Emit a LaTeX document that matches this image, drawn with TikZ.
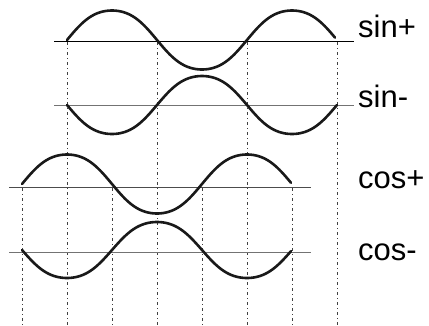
\documentclass[tikz,border=0pt]{standalone}
\usepackage{fontspec}
\setmainfont{Liberation Sans}
\begin{document}
\begin{tikzpicture}[x=1pt,y=-1pt,
  wave/.style={line width=2.6pt, black!90, line cap=round},
  axis/.style={line width=0.9pt},
  guide/.style={line width=0.7pt, black!75, dash pattern=on 3pt off 3pt on 1pt off 3pt},
  lbl/.style={anchor=base west, inner sep=0pt, font=\fontsize{31}{31}\selectfont},
  declare function={fs(\t)=(sin(\t)+0.04*sin(3*\t))/0.96;}]
\useasboundingbox (0,0) rectangle (429,325);
% guide lines
\foreach \gx in {67,157,247,337} \draw[guide] (\gx,42) -- (\gx,325);
\foreach \gx in {22,112,202,292} \draw[guide] (\gx,188) -- (\gx,325);
% axes
\draw[axis, black] (54,41) -- (354,41);
\draw[axis, black!55] (54,105) -- (354,105);
\draw[axis, black!70] (9,187) -- (311,187);
\draw[axis, black!55] (9,252) -- (311,252);
% waves
\draw[wave] plot[domain=67:335, samples=160] (\x, {40 - 29.5*fs(2*(\x-67))});
\draw[wave] plot[domain=67:337, samples=160] (\x, {105 + 29*fs(2*(\x-67))});
\draw[wave] plot[domain=22:291, samples=160] (\x, {184 - 29.5*fs(2*(\x-22))});
\draw[wave] plot[domain=22:291, samples=160] (\x, {250 + 28*fs(2*(\x-22))});
% labels
\node[lbl] (sp) at (358,37) {sin+};
\node[lbl] (sm) at (358,107) {sin-};
\node[lbl] (cp) at (358,188) {cos+};
\node[lbl] (cm) at (358,260) {cos-};
\end{tikzpicture}
\end{document}
